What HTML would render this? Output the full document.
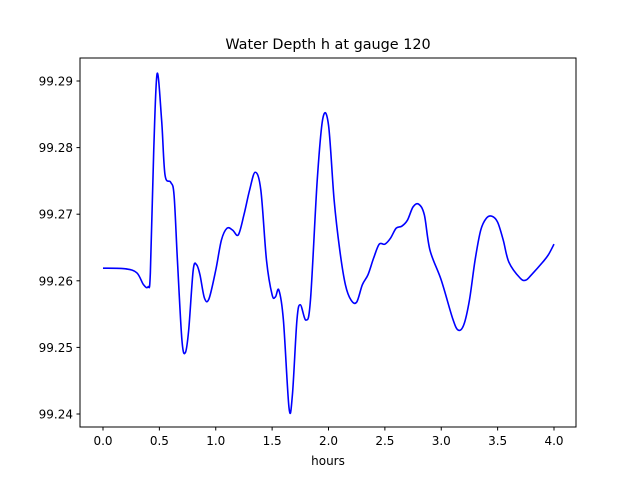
<!DOCTYPE html>
<html><head><meta charset="utf-8"><style>
body{margin:0;background:#fff;font-family:"Liberation Sans","DejaVu Sans",sans-serif}
svg text{font-family:"DejaVu Sans","Liberation Sans",sans-serif}
</style></head><body>
<svg id="chart" width="640" height="480" xmlns="http://www.w3.org/2000/svg">
<rect width="640" height="480" fill="#fff"/>
<text x="328" y="49" font-size="14.4" text-anchor="middle">Water Depth h at gauge 120</text>
<g id="plot"></g>
<rect x="80" y="58" width="496" height="369" fill="none" stroke="#000" stroke-width="1"/>
<text x="328" y="465" font-size="12" text-anchor="middle">hours</text>
</svg>
<script>
const hours=[0,0.2,0.3,0.36,0.4,0.42,0.45,0.48,0.52,0.55,0.6,0.63,0.66,0.7,0.73,0.76,0.8,0.83,0.86,0.9,0.94,1.0,1.05,1.1,1.15,1.2,1.25,1.3,1.35,1.4,1.45,1.5,1.53,1.56,1.6,1.65,1.68,1.72,1.75,1.8,1.84,1.9,1.95,2.0,2.05,2.1,2.15,2.2,2.25,2.3,2.35,2.4,2.45,2.5,2.55,2.6,2.65,2.7,2.75,2.8,2.85,2.9,3.0,3.1,3.15,3.2,3.25,3.3,3.35,3.4,3.45,3.5,3.55,3.6,3.7,3.75,3.8,3.9,3.95,4.0];
const depth=[99.2619,99.2618,99.2612,99.2594,99.2591,99.2612,99.2796,99.2911,99.2841,99.2759,99.2748,99.2729,99.2631,99.2511,99.2492,99.2526,99.2616,99.2624,99.2609,99.2574,99.2573,99.2616,99.2661,99.2679,99.2676,99.2669,99.2699,99.2736,99.2763,99.2736,99.2631,99.2579,99.2576,99.2586,99.2541,99.2409,99.2429,99.2541,99.2564,99.2541,99.2571,99.2751,99.2844,99.2834,99.2721,99.2646,99.2594,99.2571,99.2568,99.2594,99.2609,99.2634,99.2655,99.2655,99.2664,99.2679,99.2682,99.2691,99.2711,99.2715,99.2699,99.2646,99.2601,99.2544,99.2526,99.2534,99.2571,99.2631,99.2676,99.2694,99.2697,99.2688,99.2661,99.2628,99.2604,99.2601,99.2609,99.2628,99.2639,99.2655];
const xTicks=[0,0.5,1,1.5,2,2.5,3,3.5,4];
const xTickLabels=["0.0","0.5","1.0","1.5","2.0","2.5","3.0","3.5","4.0"];
const yTicks=[99.24,99.25,99.26,99.27,99.28,99.29];
const yTickLabels=["99.24","99.25","99.26","99.27","99.28","99.29"];
const NS="http://www.w3.org/2000/svg";
const g=document.getElementById('plot');
const sx=v=>103+v*112.75;
const sy=v=>414-(v-99.24)*6660;
function mk(t,a){const e=document.createElementNS(NS,t);for(const k in a)e.setAttribute(k,a[k]);g.appendChild(e);return e;}
xTicks.forEach((t,i)=>{
 const l=mk('line',{x1:sx(t),x2:sx(t),y1:427,y2:430.5,stroke:'#000'});
 
 
 const tx=mk('text',{x:sx(t),y:445,'font-size':12,'text-anchor':'middle'});tx.textContent=xTickLabels[i];
 
 
});
yTicks.forEach((t,i)=>{
 const l=mk('line',{x1:76.5,x2:80,y1:sy(t),y2:sy(t),stroke:'#000'});
 
 
 const tx=mk('text',{x:73,y:sy(t)+4.5,'font-size':12,'text-anchor':'end'});tx.textContent=yTickLabels[i];
 
 
});
const P=hours.map((h,i)=>[sx(h),sy(depth[i])]);
let d='M'+P[0][0]+','+P[0][1];
for(let i=0;i<P.length-1;i++){
 const p0=P[Math.max(i-1,0)],p1=P[i],p2=P[i+1],p3=P[Math.min(i+2,P.length-1)];
 const c1=[p1[0]+(p2[0]-p0[0])/6,p1[1]+(p2[1]-p0[1])/6];
 const c2=[p2[0]-(p3[0]-p1[0])/6,p2[1]-(p3[1]-p1[1])/6];
 d+=` C${c1[0]},${c1[1]} ${c2[0]},${c2[1]} ${p2[0]},${p2[1]}`;
}
const line=mk('path',{d:d,fill:'none',stroke:'#0000ff','stroke-width':1.6});


</script>
</body></html>
